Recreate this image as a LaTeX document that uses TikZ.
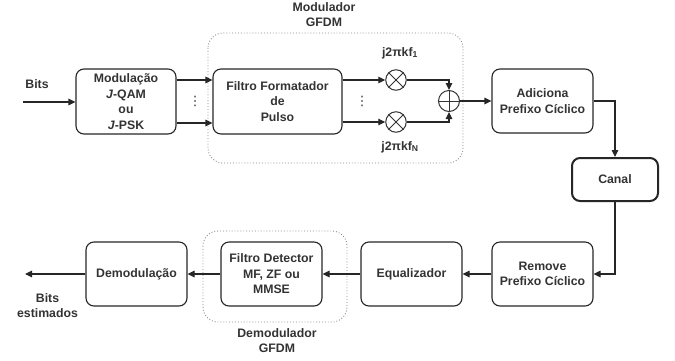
\documentclass[tikz,border=0pt]{standalone}
\usepackage{fontspec}
\setmainfont{Liberation Sans}
\newfontfamily\dejavu{DejaVu Sans}
\usetikzlibrary{arrows.meta}
\definecolor{txt}{HTML}{333333}
\definecolor{dotgray}{HTML}{888888}
\tikzset{
  blk/.style={draw=black!85, line width=1.1pt, rounded corners=8pt, align=center,
    text=txt, font=\bfseries\fontsize{12.3}{15.5}\selectfont, inner sep=1pt},
  lbl/.style={text=txt, font=\bfseries\fontsize{12.3}{15}\selectfont, align=center, inner sep=0pt},
  grp/.style={draw=dotgray, dotted, line width=0.9pt, rounded corners=15pt},
  conn/.style={draw=black!85, line width=1.1pt, -{Triangle[length=7pt,width=6.5pt]}},
  op/.style={draw=txt, circle, line width=1pt, minimum size=20.5pt, inner sep=0pt},
  vdot/.style={text=txt, font=\dejavu\fontsize{13}{13}\selectfont, inner sep=0pt},
}
\begin{document}
\begin{tikzpicture}[x=1pt,y=-1pt]
\useasboundingbox (0,0) rectangle (675,360);
% groups
\draw[grp] (208,33) rectangle (463,163);
\draw[grp] (203,231) rectangle (347,322);
\node[lbl] (modlbl) at (324,15) {Modulador\\GFDM};
\node[lbl] (demlbl) at (277,341) {Demodulador\\GFDM};
% blocks
\node[blk, minimum width=100pt, minimum height=65pt] (mod) at (126,101.5) {Modulação\\\textit{J}-QAM\\ou\\\textit{J}-PSK};
\node[blk, minimum width=129pt, minimum height=65pt] (filt) at (277.5,101.5) {Filtro Formatador\\de\\Pulso};
\node[blk, minimum width=101pt, minimum height=64pt] (add) at (542.5,101) {Adiciona\\Prefixo Cíclico};
\node[blk, line width=2pt, minimum width=86pt, minimum height=43pt] (canal) at (615,179.5) {Canal};
\node[blk, minimum width=101pt, minimum height=64pt] (rem) at (542.5,274) {Remove\\Prefixo Cíclico};
\node[blk, minimum width=101pt, minimum height=64pt] (eq) at (411.5,274) {Equalizador};
\node[blk, minimum width=101pt, minimum height=64pt] (det) at (271.5,274) {Filtro Detector\\MF, ZF ou\\MMSE};
\node[blk, minimum width=101pt, minimum height=64pt] (demod) at (136.5,274) {Demodulação};
% operators
\node[op] (m1) at (396,80) {};
\node[op] (mN) at (396,122) {};
\node[op, minimum size=21pt] (sum) at (449,101) {};
\draw[txt, line width=1pt] (m1.45)--(m1.225) (m1.135)--(m1.315);
\draw[txt, line width=1pt] (mN.45)--(mN.225) (mN.135)--(mN.315);
\draw[txt, line width=1pt] (sum.north)--(sum.south) (sum.east)--(sum.west);
\node[lbl] (f1) at (400,53) {j2πkf\textsubscript{1}};
\node[lbl] (fN) at (400,147) {j2πkf\textsubscript{N}};
\node[vdot] (dots1) at (195,101) {⋮};
\node[vdot] (dots2) at (362,101) {⋮};
% labels
\node[lbl] (bits) at (37,84) {Bits};
\node[lbl] (bitsest) at (47.5,305.5) {Bits\\estimados};
\coordinate (in) at (23,102);
\coordinate (out) at (25,274);
% connectors
\draw[conn] (in) -- (in -| mod.west);
\draw[conn] (mod.east |- 0,80) -- (filt.west |- 0,80);
\draw[conn] (mod.east |- 0,123) -- (filt.west |- 0,123);
\draw[conn] (filt.east |- m1) -- (m1.west);
\draw[conn] (filt.east |- mN) -- (mN.west);
\draw[conn] (m1.east) -| (sum.north);
\draw[conn] (mN.east) -| (sum.south);
\draw[conn] (sum.east) -- (add.west);
\draw[conn] (add.east) -| (canal.north);
\draw[conn] (canal.south) |- (rem.east);
\draw[conn] (rem.west) -- (eq.east);
\draw[conn] (eq.west) -- (det.east);
\draw[conn] (det.west) -- (demod.east);
\draw[conn] (demod.west) -- (out);
\end{tikzpicture}
\end{document}
